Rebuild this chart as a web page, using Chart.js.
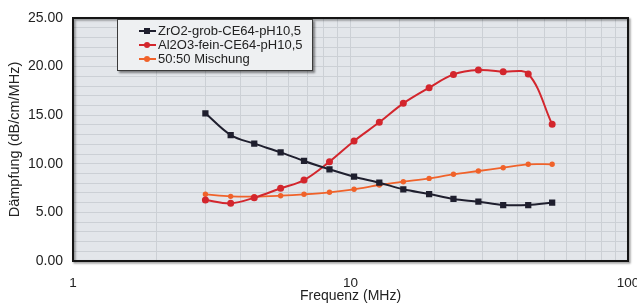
<!DOCTYPE html>
<html>
<head>
<meta charset="utf-8">
<script src="https://cdn.jsdelivr.net/npm/chart.js@4/dist/chart.umd.min.js"></script>
<style>
  html, body { margin: 0; padding: 0; background: #ffffff; }
  #wrap { position: relative; width: 637px; height: 305px; }
  #legend {
    position: absolute; left: 117px; top: 19px; width: 194px; height: 46px;
    border: 1px solid #3a3a3a; background: #eef0f2;
    box-shadow: 2px 2px 2px rgba(0,0,0,0.45);
    font-family: "Liberation Sans", Arial, sans-serif; font-size: 13px; color: #222;
    padding-top: 4px; box-sizing: content-box;
  }
  .row { position: relative; height: 14px; line-height: 14px; white-space: nowrap; }
  .sample { position: absolute; left: 21px; top: 6px; width: 17px; height: 2px; }
  .dot { position: absolute; left: 5px; top: -2px; width: 6px; height: 6px; }
  .txt { position: absolute; left: 40px; top: 0; }
</style>
</head>
<body>
<div id="wrap">
  <canvas id="c" width="637" height="305"></canvas>
  <div id="legend"></div>
</div>
<script>
const freqMHz = [3.0, 3.7, 4.5, 5.6, 6.8, 8.4, 10.3, 12.7, 15.5, 19.2, 23.5, 28.9, 35.5, 43.7, 53.3];
const zro2Grob = [15.20, 12.96, 12.07, 11.18, 10.29, 9.43, 8.67, 8.06, 7.38, 6.89, 6.38, 6.10, 5.76, 5.76, 6.00];
const al2o3Fein = [6.28, 5.93, 6.51, 7.48, 8.33, 10.22, 12.35, 14.27, 16.22, 17.83, 19.20, 19.65, 19.48, 19.24, 14.06];
const mischung = [6.86, 6.65, 6.62, 6.72, 6.86, 7.07, 7.38, 7.82, 8.16, 8.50, 8.92, 9.26, 9.60, 9.95, 9.95];
const seriesLabels = ["ZrO2-grob-CE64-pH10,5", "Al2O3-fein-CE64-pH10,5", "50:50 Mischung"];
const xTickLabels = [1, 10, 100];
const yTickLabels = [0, 5, 10, 15, 20, 25];
const xTitle = "Frequenz (MHz)";
const yTitle = "Dämpfung (dB/cm/MHz)";

const toXY = vals => vals.map((v, i) => ({ x: freqMHz[i], y: v }));

const FONT = "'Liberation Sans', Arial, sans-serif";

const framePlugin = {
  id: 'frame',
  beforeDraw(chart) {
    const { ctx, chartArea: a } = chart;
    ctx.save();
    ctx.fillStyle = '#e3e6ea';
    ctx.fillRect(a.left, a.top, a.right - a.left, a.bottom - a.top);
    ctx.restore();
  },
  afterDatasetsDraw(chart) {
    const { ctx, chartArea: a } = chart;
    ctx.save();
    ctx.shadowColor = 'rgba(0,0,0,0.45)';
    ctx.shadowBlur = 2;
    ctx.shadowOffsetX = 1.5;
    ctx.shadowOffsetY = 1.5;
    ctx.strokeStyle = '#151515';
    ctx.lineWidth = 2;
    ctx.strokeRect(a.left, a.top, a.right - a.left, a.bottom - a.top);
    ctx.restore();
  }
};

const chart = new Chart(document.getElementById('c'), {
  type: 'line',
  data: {
    datasets: [
      { label: seriesLabels[0], data: toXY(zro2Grob), borderColor: '#1f1f2e', backgroundColor: '#1f1f2e',
        borderWidth: 2, pointStyle: 'rect', pointRadius: 3, tension: 0.35 },
      { label: seriesLabels[1], data: toXY(al2o3Fein), borderColor: '#d3262d', backgroundColor: '#d3262d',
        borderWidth: 2, pointStyle: 'circle', pointRadius: 2.5, tension: 0.35 },
      { label: seriesLabels[2], data: toXY(mischung), borderColor: '#f0622a', backgroundColor: '#f0622a',
        borderWidth: 1.8, pointStyle: 'circle', pointRadius: 1.8, tension: 0.35 }
    ]
  },
  options: {
    responsive: false,
    animation: false,
    devicePixelRatio: 1,
    layout: { padding: { top: 18, right: 9, left: 0, bottom: 0 } },
    plugins: { legend: { display: false }, tooltip: { enabled: false } },
    scales: {
      x: {
        type: 'logarithmic', min: 1, max: 100,
        border: { display: false },
        grid: { color: '#ccd0d5', lineWidth: 1, drawTicks: false },
        ticks: {
          autoSkip: false, maxRotation: 0, padding: 14, color: '#222',
          font: { family: FONT, size: 13.5 },
          callback: v => xTickLabels.includes(v) ? String(v) : ''
        },
        title: { display: true, text: xTitle, color: '#222', font: { family: FONT, size: 14 }, padding: { top: 0, bottom: 0 } },
        afterFit(s) { s.height = 44; s.paddingLeft = 0; s.paddingRight = 0; }
      },
      y: {
        min: 0, max: 25,
        border: { display: false },
        grid: { color: '#ccd0d5', lineWidth: 1, drawTicks: false },
        ticks: {
          stepSize: 1, autoSkip: false, padding: 10, color: '#222',
          font: { family: FONT, size: 14 },
          callback: v => yTickLabels.includes(v) ? v.toFixed(2) : ''
        },
        title: { display: true, text: yTitle, color: '#222', font: { family: FONT, size: 14.5 }, padding: { top: 6, bottom: 0 } },
        afterFit(s) { s.width = 73; s.paddingTop = 0; s.paddingBottom = 0; }
      }
    }
  },
  plugins: [framePlugin]
});

// HTML legend built from the chart's datasets
const leg = document.getElementById('legend');
chart.data.datasets.forEach(ds => {
  const row = document.createElement('div'); row.className = 'row';
  const s = document.createElement('span'); s.className = 'sample'; s.style.background = ds.borderColor;
  const d = document.createElement('span'); d.className = 'dot'; d.style.background = ds.backgroundColor;
  if (ds.pointStyle === 'circle') d.style.borderRadius = '50%';
  s.appendChild(d);
  const t = document.createElement('span'); t.className = 'txt'; t.textContent = ds.label;
  row.appendChild(s); row.appendChild(t);
  leg.appendChild(row);
});
</script>
</body>
</html>
